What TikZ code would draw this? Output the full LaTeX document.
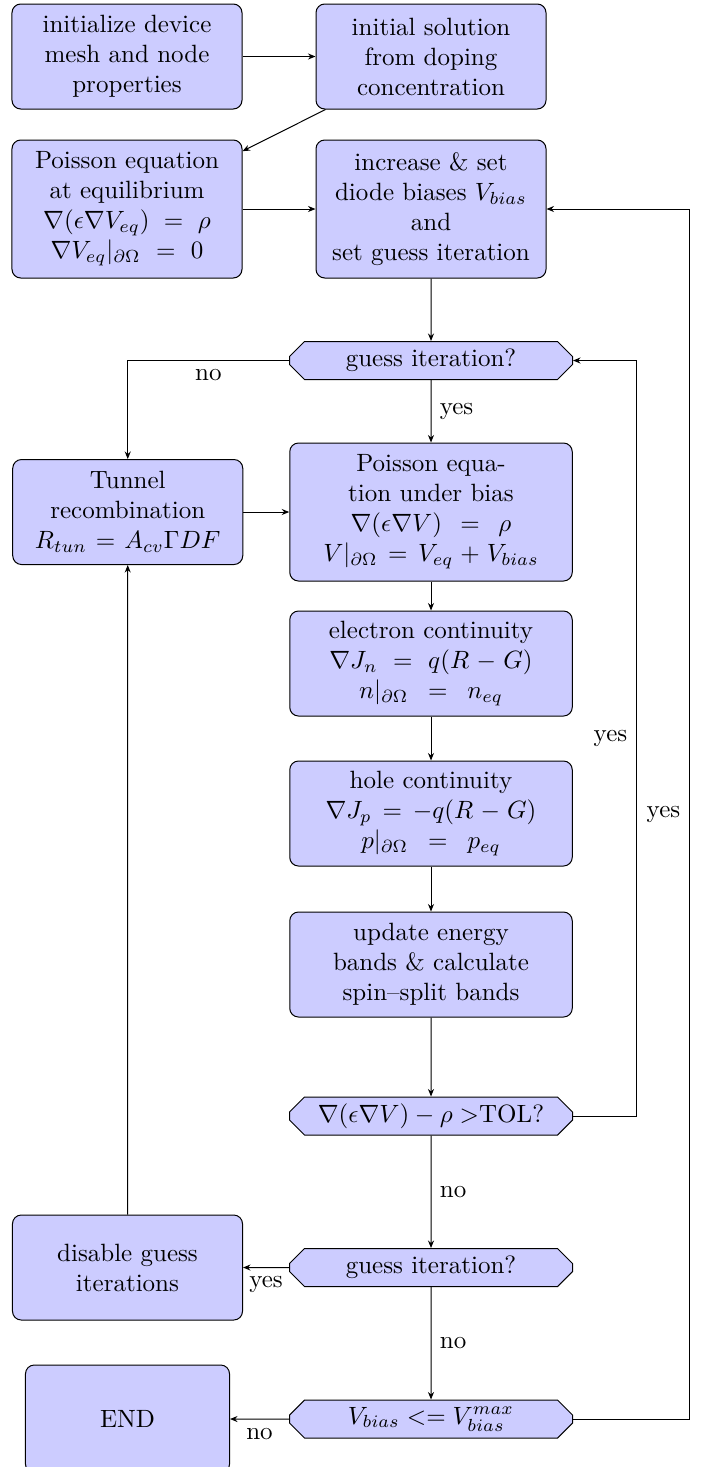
\documentclass[tikz,border=0pt]{standalone}
\usepackage{tikz}
\usetikzlibrary{arrows.meta,shapes.misc,positioning}
\usepackage{xcolor}
\usepackage{amsmath}
\definecolor{bfill}{RGB}{204,204,255}
\tikzset{
  blk/.style={rectangle,rounded corners=3.5pt,draw,fill=bfill,
    text width=#1,align=center,minimum height=42pt,inner sep=3pt},
  blk/.default=86pt,
  dec/.style={chamfered rectangle,chamfered rectangle xsep=4pt,
    chamfered rectangle ysep=2pt,draw,fill=bfill,align=center,
    minimum width=113.2pt,minimum height=15.2pt,inner ysep=0.3pt},
  arr/.style={-{Stealth[length=3pt,width=2.4pt]}},
}
\begin{document}
\begin{tikzpicture}[x=0.4pt,y=-0.4pt]
    \useasboundingbox (0,0) rectangle (702,1467);

    % ── Setup ─────────────────────────────────────────────────────────────
    \node[blk] (init) at (127,56.5) {initialize device\\mesh and node\\properties};
    \node[blk,right=29.2pt of init] (sol) {initial solution\\from doping\\concentration};
    \node[blk,minimum height=55.2pt,below=12pt of init] (peq)
      {Poisson equation\\at equilibrium\\$\nabla(\epsilon\nabla V_{eq})\,=\,\rho$\\$\nabla V_{eq}|_{\partial\Omega}\,=\,0$};
    \node[blk,minimum height=55.2pt,right=29.2pt of peq] (incr)
      {increase \& set\\diode biases $V_{bias}$\\and\\set guess iteration};

    \draw[arr] (init)--(sol);
    \draw[arr] (sol)--(peq);
    \draw[arr] (peq)--(incr);

    % ── Bias loop ─────────────────────────────────────────────────────────
    \node[dec,below=25pt of incr] (gs1) {guess iteration?};
    \node[blk=107pt,minimum height=55.2pt,below=25pt of gs1] (pb)
      {Poisson equa-\\tion under bias\\$\nabla(\epsilon\nabla V)\,=\,\rho$\\$V|_{\partial\Omega}=V_{eq}+V_{bias}$};
    \node[blk,left=18.4pt of pb] (tun) {Tunnel\\recombination\\$R_{tun}=A_{cv}\Gamma DF$};
    \node[blk=107pt,below=11.6pt of pb] (ec)
      {electron continuity\\$\nabla J_n\,=\,q(R-G)$\\$n|_{\partial\Omega}\,=\,n_{eq}$};
    \node[blk=107pt,below=17.6pt of ec] (hc)
      {hole continuity\\$\nabla J_p=-q(R-G)$\\$p|_{\partial\Omega}\,=\,p_{eq}$};
    \node[blk=107pt,below=18pt of hc] (upd)
      {update energy\\bands \& calculate\\spin--split bands};
    \node[dec,below=31.6pt of upd] (tol) {$\nabla(\epsilon\nabla V)-\rho>$TOL?};

    \draw[arr] (incr)--(gs1);
    \draw[arr] (gs1)--node[right]{yes}(pb);
    \draw[arr] (gs1.west)-|node[pos=0.25,below]{no}(tun.north);
    \draw[arr] (tun)--(pb);
    \draw[arr] (pb)--(ec);
    \draw[arr] (ec)--(hc);
    \draw[arr] (hc)--(upd);
    \draw[arr] (upd)--(tol);
    \draw[arr] (tol.east)--++(25.2pt,0)|-node[pos=0.25,left]{yes}(gs1.east);

    % ── Exit ──────────────────────────────────────────────────────────────
    \node[dec,below=45pt of tol] (gs2) {guess iteration?};
    \node[blk,left=18.4pt of gs2] (dis) {disable guess\\iterations};
    \node[dec,below=45pt of gs2] (vmx) {$V_{bias}<=V_{bias}^{max}$};
    \node[blk=75.6pt,left=23.6pt of vmx,minimum height=43.2pt] (fin) {END};

    \draw[arr] (tol)--node[right]{no}(gs2);
    \draw[arr] (gs2)--node[below]{yes}(dis);
    \draw[arr] (dis)--(tun);
    \draw[arr] (gs2)--node[right]{no}(vmx);
    \draw[arr] (vmx)--node[below]{no}(fin);
    \draw[arr] (vmx.east)--++(46.4pt,0)|-node[pos=0.25,left]{yes}(incr.east);

  \end{tikzpicture}
\end{document}
